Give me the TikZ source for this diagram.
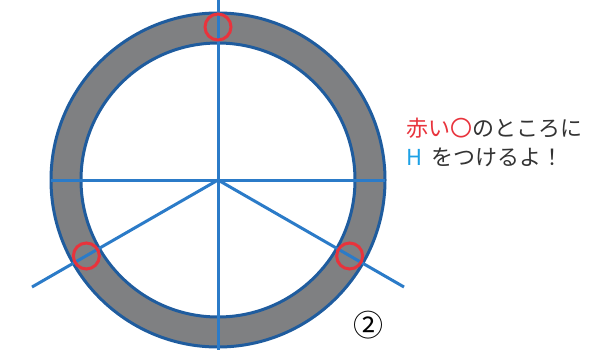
\documentclass[tikz,border=0pt]{standalone}
\usepackage{fontspec}
\usetikzlibrary{calc}
\newfontfamily\jp{Noto Sans CJK JP}
\definecolor{ringgray}{HTML}{7F8082}
\definecolor{ringblue}{HTML}{1F5C9E}
\definecolor{lineblue}{HTML}{2B7BC8}
\definecolor{markred}{HTML}{E8333C}
\definecolor{hblue}{HTML}{1DA1E6}
\definecolor{textgray}{HTML}{333333}
\tikzset{
  ring/.style={fill=ringgray, even odd rule},
  ringedge/.style={draw=ringblue, line width=3pt},
  guide/.style={draw=lineblue, line width=3pt},
  redmark/.style={draw=markred, line width=3pt},
  jptext/.style={font=\jp\fontsize{22}{26}\selectfont, text=textgray, anchor=west, inner sep=0pt}
}
\begin{document}
\begin{tikzpicture}[x=1pt,y=-1pt]
\useasboundingbox (0,0) rectangle (607,350);
\coordinate (c) at (218,180);
\coordinate (top) at (218,0);
\coordinate (bot) at (218,350);
\coordinate (lft) at (51,180);
\coordinate (rgt) at (385,180);
\coordinate (ll) at (32,287);
\coordinate (lr) at (404,287);
\coordinate (m1) at (218,27);
\coordinate (m2) at ($(c)+(210:152pt)$);
\coordinate (m3) at ($(c)+(-30:152pt)$);
% ring
\fill[ring] (c) circle[radius=167pt] (c) circle[radius=137pt];
\draw[ringedge] (c) circle[radius=167pt];
\draw[ringedge] (c) circle[radius=137pt];
% guide lines
\draw[guide] (top) -- (bot);
\draw[guide] (lft) -- (rgt);
\draw[guide] (c) -- (ll);
\draw[guide] (c) -- (lr);
% red marks
\draw[redmark] (m1) circle[radius=13pt];
\draw[redmark] (m2) circle[radius=13pt];
\draw[redmark] (m3) circle[radius=13pt];
% text
\node[jptext] (t1) at (406,128) {\textcolor{markred}{赤い〇}のところに};
\node[jptext] (t2) at (406,157) {\textcolor{hblue}{H}\hspace{4pt} をつけるよ！};
\node[font=\jp\fontsize{30}{32}\selectfont, text=black, inner sep=0pt] (num) at (368,325) {②};
\end{tikzpicture}
\end{document}
